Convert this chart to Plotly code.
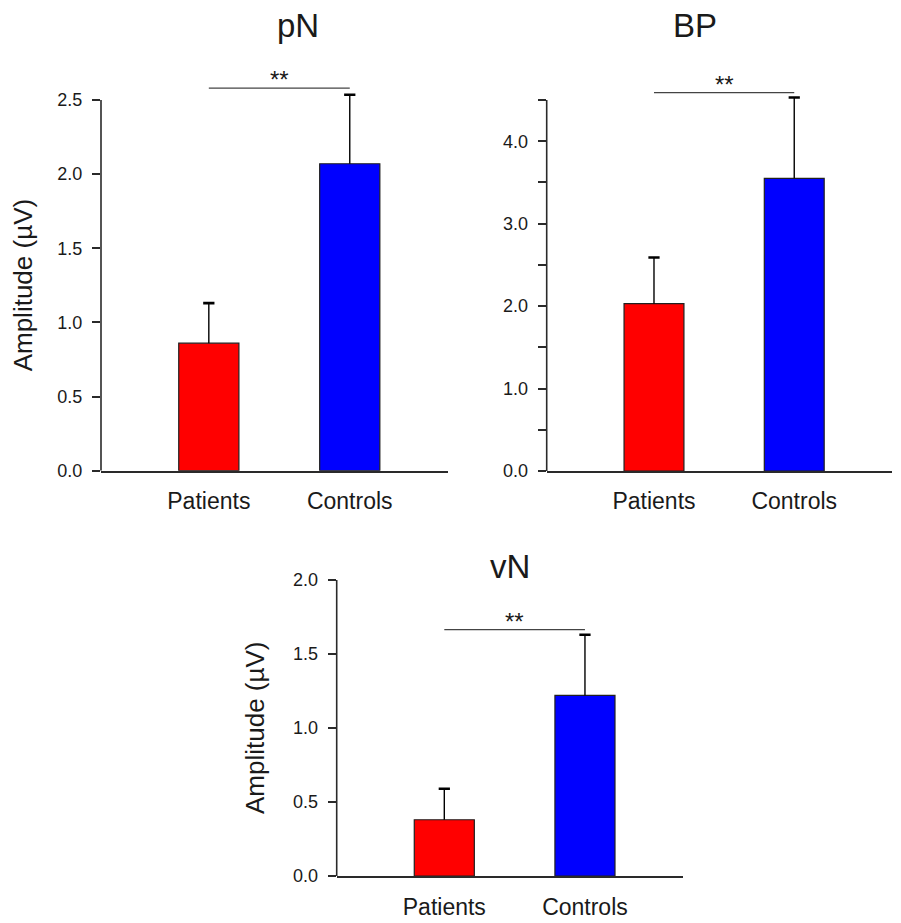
import plotly.graph_objects as go

# ---- data ----
categories = ["Patients", "Controls"]
panel_titles = ["pN", "BP", "vN"]
pN_mean = [0.86, 2.07]
pN_err = [0.27, 0.465]
BP_mean = [2.03, 3.55]
BP_err = [0.56, 0.98]
vN_mean = [0.38, 1.22]
vN_err = [0.21, 0.41]
sig_level = [2.58, 4.59, 1.665]
sig_text = ["**", "**", "**"]
y_max = [2.5, 4.5, 2.0]
pN_ticks = [0.0, 0.5, 1.0, 1.5, 2.0, 2.5]
pN_ticktext = ["0.0", "0.5", "1.0", "1.5", "2.0", "2.5"]
BP_ticks = [0.0, 0.5, 1.0, 1.5, 2.0, 2.5, 3.0, 3.5, 4.0, 4.5]
BP_ticktext = ["0.0", "", "1.0", "", "2.0", "", "3.0", "", "4.0", ""]
vN_ticks = [0.0, 0.5, 1.0, 1.5, 2.0]
vN_ticktext = ["0.0", "0.5", "1.0", "1.5", "2.0"]
bar_colors = ["#ff0000", "#0000ff"]
y_label = "Amplitude (\u00b5V)"

W, H = 901, 923
FONT = "Liberation Sans, Arial, sans-serif"
AX = "#2a2a2a"
TXT = "#1a1a1a"

def px_x(p):
    return p / W

def px_y(p):
    return 1 - p / H

# panel pixel boxes: (left, right, y_max pixel, zero pixel)
boxes = [(101, 448, 100, 470.7), (546.7, 892, 100, 471), (336.7, 683, 580, 876)]
headroom = [1.06, 1.045, 1.0]  # extra plotting room above the axis top
title_cy = [25.5, 25.5, 566]
means = [pN_mean, BP_mean, vN_mean]
errs = [pN_err, BP_err, vN_err]
ticks = [(pN_ticks, pN_ticktext), (BP_ticks, BP_ticktext), (vN_ticks, vN_ticktext)]
xpos = [0, 1]
xrange = [-0.765, 1.697]
bar_w = 0.427
cap_hw = 0.04
xlab_standoff = [9, 9, 10]

fig = go.Figure()
layout = dict(width=W, height=H, margin=dict(l=0, r=0, t=0, b=0, pad=0), autosize=False,
              template="none",
              paper_bgcolor="white", plot_bgcolor="white", showlegend=False,
              font=dict(family=FONT, color=TXT))
annotations = []
shapes = []

for i in range(3):
    xa = "x" if i == 0 else f"x{i+1}"
    ya = "y" if i == 0 else f"y{i+1}"
    xkey = "xaxis" if i == 0 else f"xaxis{i+1}"
    ykey = "yaxis" if i == 0 else f"yaxis{i+1}"
    l, r, t, b = boxes[i]
    m, e = means[i], errs[i]
    ytop = y_max[i] * headroom[i]
    scale = (b - t) / y_max[i]
    top_px = b - ytop * scale

    # error bars (stem + cap)
    for j in range(2):
        fig.add_trace(go.Scatter(x=[xpos[j], xpos[j]], y=[m[j], m[j] + e[j]], mode="lines",
                                 line=dict(color="black", width=1.4), xaxis=xa, yaxis=ya,
                                 hoverinfo="skip"))
        fig.add_trace(go.Scatter(x=[xpos[j] - cap_hw, xpos[j] + cap_hw], y=[m[j] + e[j]] * 2,
                                 mode="lines", line=dict(color="black", width=2.6),
                                 xaxis=xa, yaxis=ya, hoverinfo="skip"))
    fig.add_trace(go.Bar(x=xpos, y=m, width=bar_w, marker=dict(color=bar_colors,
                         line=dict(color="#202020", width=1.2)), xaxis=xa, yaxis=ya))
    # significance line
    fig.add_trace(go.Scatter(x=xpos, y=[sig_level[i]] * 2, mode="lines",
                             line=dict(color="#444444", width=1.2), xaxis=xa, yaxis=ya,
                             hoverinfo="skip"))
    annotations.append(dict(x=0.5, y=sig_level[i], xref=xa, yref=ya, text=sig_text[i],
                            showarrow=False, yanchor="bottom", yshift=-7,
                            font=dict(size=24, family=FONT, color=TXT)))
    # y axis line only up to the last tick
    shapes.append(dict(type="line", xref=f"{xa} domain", yref=ya, x0=0, x1=0,
                       y0=0, y1=y_max[i], line=dict(color=AX, width=1.6), layer="above"))

    tv, tt = ticks[i]
    layout[xkey] = dict(domain=[px_x(l), px_x(r)], range=xrange, anchor=ya,
                        showline=True, linecolor=AX, linewidth=1.6, ticks="",
                        tickvals=xpos, ticktext=categories, showgrid=False, zeroline=False,
                        automargin=False,
                        tickfont=dict(size=23, family=FONT, color=TXT),
                        ticklabelstandoff=xlab_standoff[i])
    layout[ykey] = dict(domain=[px_y(b), px_y(top_px)], range=[0, ytop], anchor=xa,
                        showline=False, ticks="outside",
                        ticklen=8, tickwidth=1.5, tickcolor=AX, tickvals=tv, ticktext=tt,
                        showgrid=False, zeroline=False, automargin=False,
                        tickfont=dict(size=18, family=FONT, color=TXT),
                        ticklabelstandoff=6)
    # panel title
    annotations.append(dict(x=px_x((l + r) / 2), y=px_y(title_cy[i]), xref="paper",
                            yref="paper", text=panel_titles[i], showarrow=False,
                            yanchor="middle",
                            font=dict(size=33, family=FONT, color=TXT)))

# y-axis titles (pN and vN)
for i in [0, 2]:
    l, r, t, b = boxes[i]
    cx = 23 if i == 0 else 255
    annotations.append(dict(x=px_x(cx), y=px_y((t + b) / 2), xref="paper", yref="paper",
                            text=y_label, textangle=-90, showarrow=False,
                            xanchor="center", yanchor="middle",
                            font=dict(size=26, family=FONT, color=TXT)))

layout["annotations"] = annotations
layout["shapes"] = shapes
fig.update_layout(**layout)
fig.write_html("out.html")
